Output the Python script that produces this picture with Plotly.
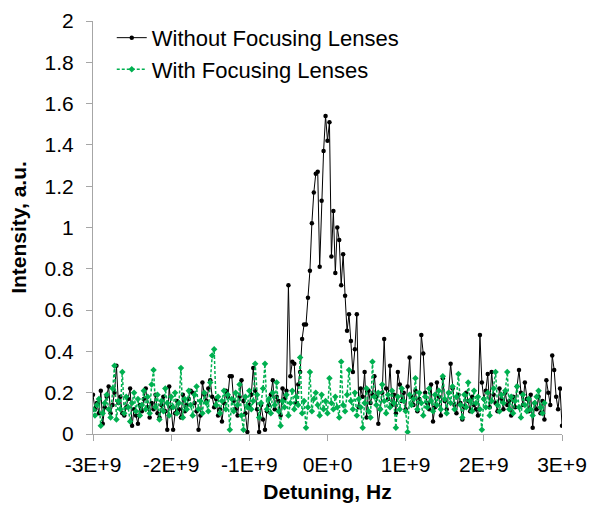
import plotly.graph_objects as go

# Detuning step 0.025E9 Hz from -3E9
step = 0.025e9
start = -3e9

without_lenses = [
    0.19, 0.12, 0.15, 0.10, 0.21, 0.05, 0.13, 0.18, 0.23, 0.10,
    0.14, 0.20, 0.33, 0.15, 0.18, 0.10, 0.09, 0.13, 0.17, 0.22,
    0.04, 0.12, 0.09, 0.05, 0.14, 0.11, 0.17, 0.22, 0.13, 0.08,
    0.15, 0.12, 0.19, 0.10, 0.08, 0.14, 0.18, 0.11, 0.02, 0.23,
    0.13, 0.02, 0.10, 0.16, 0.12, 0.08, 0.19, 0.11, 0.14, 0.17,
    0.21, 0.20, 0.15, 0.11, 0.02, 0.09, 0.25, 0.19, 0.16, 0.22,
    0.26, 0.18, 0.13, 0.17, 0.09, 0.12, 0.06, 0.15, 0.21, 0.18,
    0.28, 0.28, 0.16, 0.12, 0.09, 0.18, 0.26, 0.16, 0.10, 0.01,
    0.14, 0.19, 0.32, 0.21, 0.12, 0.01, 0.14, 0.07, 0.02, 0.11,
    0.14, 0.19, 0.26, 0.12, 0.18, 0.16, 0.09, 0.22, 0.17, 0.21,
    0.72, 0.28, 0.35, 0.34, 0.15, 0.24, 0.30, 0.46, 0.53, 0.53,
    0.66, 0.79, 1.02, 1.17, 1.26, 1.27, 0.81, 1.13, 1.37, 1.54,
    1.42, 1.51, 0.86, 1.08, 0.78, 1.00, 0.94, 0.72, 0.87, 0.67,
    0.50, 0.58, 0.45, 0.30, 0.41, 0.58, 0.13, 0.22, 0.18, 0.30,
    0.08, 0.21, 0.15, 0.19, 0.28, 0.18, 0.05, 0.12, 0.20, 0.46,
    0.22, 0.17, 0.33, 0.14, 0.19, 0.10, 0.30, 0.24, 0.16, 0.20,
    0.12, 0.23, 0.37, 0.18, 0.14, 0.21, 0.11, 0.17, 0.48, 0.39,
    0.20, 0.15, 0.12, 0.24, 0.06, 0.13, 0.25, 0.18, 0.09, 0.27,
    0.16, 0.12, 0.20, 0.34, 0.22, 0.14, 0.10, 0.19, 0.15, 0.07,
    0.13, 0.20, 0.16, 0.11, 0.18, 0.14, 0.12, 0.09, 0.48, 0.25,
    0.17, 0.21, 0.29, 0.13, 0.30, 0.19, 0.15, 0.11, 0.22, 0.17,
    0.12, 0.20, 0.14, 0.16, 0.09, 0.18, 0.13, 0.23, 0.31, 0.20,
    0.14, 0.25, 0.17, 0.11, 0.19, 0.03, 0.15, 0.12, 0.18, 0.10,
    0.16, 0.07, 0.26, 0.20, 0.14, 0.38, 0.31, 0.18, 0.12, 0.22,
    0.04,
]

with_lenses = [
    0.12, 0.09, 0.14, 0.17, 0.04, 0.10, 0.15, 0.19, 0.12, 0.08,
    0.22, 0.33, 0.07, 0.16, 0.12, 0.30, 0.10, 0.18, 0.13, 0.06,
    0.15, 0.20, 0.11, 0.17, 0.09, 0.14, 0.21, 0.12, 0.18, 0.10,
    0.24, 0.31, 0.13, 0.19, 0.07, 0.16, 0.11, 0.22, 0.15, 0.09,
    0.18, 0.13, 0.20, 0.10, 0.15, 0.32, 0.08, 0.17, 0.12, 0.21,
    0.14, 0.09, 0.19, 0.23, 0.12, 0.16, 0.10, 0.20, 0.15, 0.11,
    0.25, 0.38, 0.41, 0.14, 0.18, 0.10, 0.16, 0.21, 0.12, 0.19,
    0.02, 0.17, 0.11, 0.20, 0.14, 0.24, 0.09, 0.02, 0.18, 0.13,
    0.21, 0.12, 0.16, 0.34, 0.19, 0.08, 0.15, 0.22, 0.34, 0.12,
    0.17, 0.10, 0.20, 0.14, 0.25, 0.11, 0.04, 0.16, 0.13, 0.19,
    0.09, 0.15, 0.21, 0.12, 0.18, 0.14, 0.37, 0.10, 0.16, 0.03,
    0.13, 0.30, 0.11, 0.17, 0.20, 0.14, 0.09, 0.19, 0.12, 0.16,
    0.10, 0.27, 0.15, 0.12, 0.18, 0.13, 0.08, 0.35, 0.14, 0.11,
    0.19, 0.31, 0.16, 0.12, 0.20, 0.09, 0.17, 0.13, 0.03, 0.15,
    0.22, 0.11, 0.08, 0.35, 0.18, 0.14, 0.20, 0.12, 0.24, 0.16,
    0.10, 0.19, 0.13, 0.21, 0.15, 0.03, 0.18, 0.12, 0.22, 0.16,
    0.11, 0.01, 0.19, 0.14, 0.17, 0.27, 0.12, 0.20, 0.15, 0.09,
    0.18, 0.13, 0.22, 0.16, 0.11, 0.19, 0.14, 0.21, 0.12, 0.28,
    0.17, 0.10, 0.20, 0.15, 0.23, 0.12, 0.18, 0.29, 0.14, 0.08,
    0.19, 0.13, 0.25, 0.16, 0.11, 0.21, 0.15, 0.18, 0.12, 0.02,
    0.17, 0.13, 0.20, 0.09, 0.16, 0.22, 0.30, 0.14, 0.11, 0.19,
    0.15, 0.21, 0.30, 0.12, 0.18, 0.10, 0.16, 0.23, 0.13, 0.08,
    0.19, 0.14, 0.11, 0.17, 0.12, 0.09, 0.15, 0.18, 0.21, 0.13,
    0.10, 0.15,
]

x_without = [start + i * step for i in range(len(without_lenses))]
x_with = [start + i * step for i in range(len(with_lenses))]

x_tick_vals = [-3e9, -2e9, -1e9, 0, 1e9, 2e9, 3e9]
x_tick_text = ["-3E+9", "-2E+9", "-1E+9", "0E+0", "1E+9", "2E+9", "3E+9"]

FONT = "Liberation Sans, Arial, sans-serif"
GREEN = "#00B050"

fig = go.Figure()
fig.add_trace(go.Scatter(
    x=x_without, y=without_lenses, mode="lines+markers",
    name="Without Focusing Lenses",
    line=dict(color="#000000", width=1),
    marker=dict(color="#000000", size=4.5, symbol="circle"),
))
fig.add_trace(go.Scatter(
    x=x_with, y=with_lenses, mode="lines+markers",
    name="With Focusing Lenses",
    line=dict(color=GREEN, width=1.5, dash="3px,2px"),
    marker=dict(color=GREEN, size=5, symbol="diamond"),
))

fig.update_layout(
    width=596, height=506,
    margin=dict(l=93, r=34, t=21, b=72),
    paper_bgcolor="white", plot_bgcolor="white",
    font=dict(family=FONT, size=21, color="#000000"),
    showlegend=True,
    legend=dict(
        x=0.04, y=1.01, xanchor="left", yanchor="top",
        bgcolor="rgba(0,0,0,0)", font=dict(size=22),
        itemwidth=30,
    ),
    xaxis=dict(
        range=[-3e9, 3e9], tickvals=x_tick_vals, ticktext=x_tick_text,
        showgrid=False, zeroline=False, showline=True,
        linecolor="#A6A6A6", linewidth=1, automargin=False,
        ticks="outside", ticklen=6, tickcolor="#A6A6A6",
        tickfont=dict(size=21), ticklabelstandoff=6,
        title=dict(text="<b>Detuning, Hz</b>", font=dict(size=21), standoff=9),
    ),
    yaxis=dict(
        range=[0, 2], dtick=0.2, tick0=0,
        showgrid=False, zeroline=False, showline=True,
        linecolor="#A6A6A6", linewidth=1, automargin=False,
        ticks="outside", ticklen=6, tickcolor="#A6A6A6",
        tickfont=dict(size=21), ticklabelstandoff=8,
        title=dict(text="<b>Intensity, a.u.</b>", font=dict(size=21), standoff=12),
    ),
)

fig.write_html("out.html", config={"displayModeBar": False},
               post_script="document.body.style.margin='0px';")
